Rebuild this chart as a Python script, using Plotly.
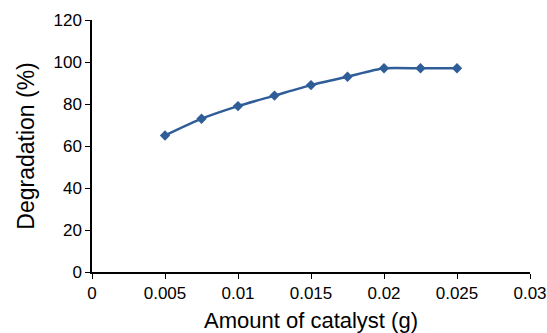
import plotly.graph_objects as go

catalyst = [0.005, 0.0075, 0.01, 0.0125, 0.015, 0.0175, 0.02, 0.0225, 0.025]
degradation = [65, 73, 79, 84, 89, 93, 97, 97, 97]
x_ticks = [0, 0.005, 0.01, 0.015, 0.02, 0.025, 0.03]
x_tick_labels = ["0", "0.005", "0.01", "0.015", "0.02", "0.025", "0.03"]
y_ticks = [0, 20, 40, 60, 80, 100, 120]

color = "#2F5D98"
font_family = "Liberation Sans, Arial"
fig = go.Figure(go.Scatter(
    x=catalyst, y=degradation, mode="lines+markers",
    line=dict(color=color, width=2.5, shape="spline", smoothing=0.6),
    marker=dict(symbol="diamond", size=8, color=color),
))

axis_common = dict(showgrid=False, zeroline=False, showline=True, linecolor="black",
                   linewidth=1.5, ticks="outside", ticklen=5, tickcolor="black",
                   automargin=False,
                   tickfont=dict(family=font_family, size=17, color="black"))
fig.update_layout(
    width=547, height=333,
    margin=dict(l=92, r=17, t=20, b=61),
    plot_bgcolor="white", paper_bgcolor="white",
    showlegend=False,
    xaxis=dict(range=[0, 0.03], tickvals=x_ticks, ticktext=x_tick_labels,
               title=dict(text="Amount of catalyst (g)", standoff=11,
                          font=dict(family=font_family, size=22, color="black")),
               **axis_common),
    yaxis=dict(range=[0, 120], tickvals=y_ticks,
               title=dict(text="Degradation (%)", standoff=12,
                          font=dict(family=font_family, size=23, color="black")),
               **axis_common),
)
fig.write_html("out.html")
